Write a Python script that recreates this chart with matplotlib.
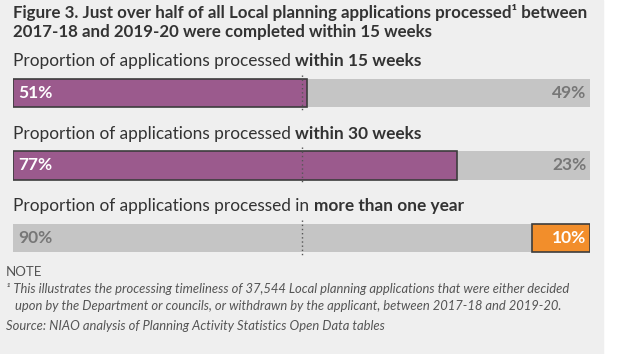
import matplotlib
matplotlib.use("Agg")
import matplotlib.pyplot as plt

plt.rcParams['font.family'] = ['Lato', 'DejaVu Sans']

W, H = 620, 354

title = "Figure 3. Just over half of all Local planning applications processed\u00b9 between\n2017-18 and 2019-20 were completed within 15 weeks"
row_lead = ["Proportion of applications processed ",
            "Proportion of applications processed ",
            "Proportion of applications processed in "]
row_bold = ["within 15 weeks", "within 30 weeks", "more than one year"]
values = [51, 77, 90]          # first segment of each bar
highlight = [0, 0, 1]          # which segment is coloured: 0 = first, 1 = second
note_lines = ["\u00b9 This illustrates the processing timeliness of 37,544 Local planning applications that were either decided",
              "   upon by the Department or councils, or withdrawn by the applicant, between 2017-18 and 2019-20."]
source = "Source: NIAO analysis of Planning Activity Statistics Open Data tables"

purple = "#9b5a8d"
orange = "#f28e2b"
grey = "#c5c5c5"
bg = "#efefef"
dark = "#333333"

fig = plt.figure(figsize=(W / 100, H / 100), dpi=100)
fig.patch.set_facecolor("white")

# background panel in pixel coordinates
base = fig.add_axes([0, 0, 1, 1])
base.set_xlim(0, W)
base.set_ylim(H, 0)
base.axis("off")
base.add_patch(plt.Rectangle((0, 0), 603, H, color=bg, zorder=0))

base.text(13, 4, title, fontsize=12.2, fontweight="bold", color=dark,
          va="top", ha="left", linespacing=1.22)

label_y = [61, 134, 206]
for y, lead, bold in zip(label_y, row_lead, row_bold):
    t = base.text(13, y, lead, fontsize=12.4, color=dark, va="center", ha="left")
    base.annotate(bold, xy=(1, 0), xycoords=t, fontsize=12.4, fontweight="bold",
                  color=dark, va="bottom", ha="left")

# bars
ax = fig.add_axes([13 / W, 1 - 274.25 / H, 577 / W, 217.5 / H])
ax.set_xlim(0, 100)
ax.set_ylim(2.5, -0.5)
ax.axis("off")
ax.patch.set_alpha(0)

bh = 0.39
for i, (v, hl) in enumerate(zip(values, highlight)):
    rest = 100 - v
    if hl == 0:
        ax.barh(i, rest, left=v, height=bh, color=grey, zorder=1)
        ax.barh(i, v, height=bh, color=purple, edgecolor="#3d3d3d", linewidth=1.2, zorder=2)
        ax.text(0.9, i, f"{v}%", color="white", fontsize=12.5, fontweight="bold",
                va="center", ha="left", zorder=4)
        ax.text(99.4, i, f"{rest}%", color="#777777", fontsize=12.5, fontweight="bold",
                va="center", ha="right", zorder=4)
    else:
        ax.barh(i, v, height=bh, color=grey, zorder=1)
        ax.barh(i, rest, left=v, height=bh, color=orange, edgecolor="#3d3d3d", linewidth=1.2, zorder=2)
        ax.text(0.9, i, f"{v}%", color="#777777", fontsize=12.5, fontweight="bold",
                va="center", ha="left", zorder=4)
        ax.text(99.4, i, f"{rest}%", color="white", fontsize=12.5, fontweight="bold",
                va="center", ha="right", zorder=4)
    ax.vlines(50, i - 0.25, i + 0.25, colors="#555555", linestyles=(0, (1, 2)),
              linewidth=1, zorder=3)

# notes
base.text(6, 272, "NOTE", fontsize=9.5, color="#555555", va="center", ha="left")
base.text(6, 289, note_lines[0], fontsize=9.4, style="italic", color="#555555", va="center", ha="left")
base.text(6, 306, note_lines[1], fontsize=9.4, style="italic", color="#555555", va="center", ha="left")
base.text(6, 326, source, fontsize=9.4, style="italic", color="#555555", va="center", ha="left")

fig.savefig("out.png", dpi=100, facecolor="white")
